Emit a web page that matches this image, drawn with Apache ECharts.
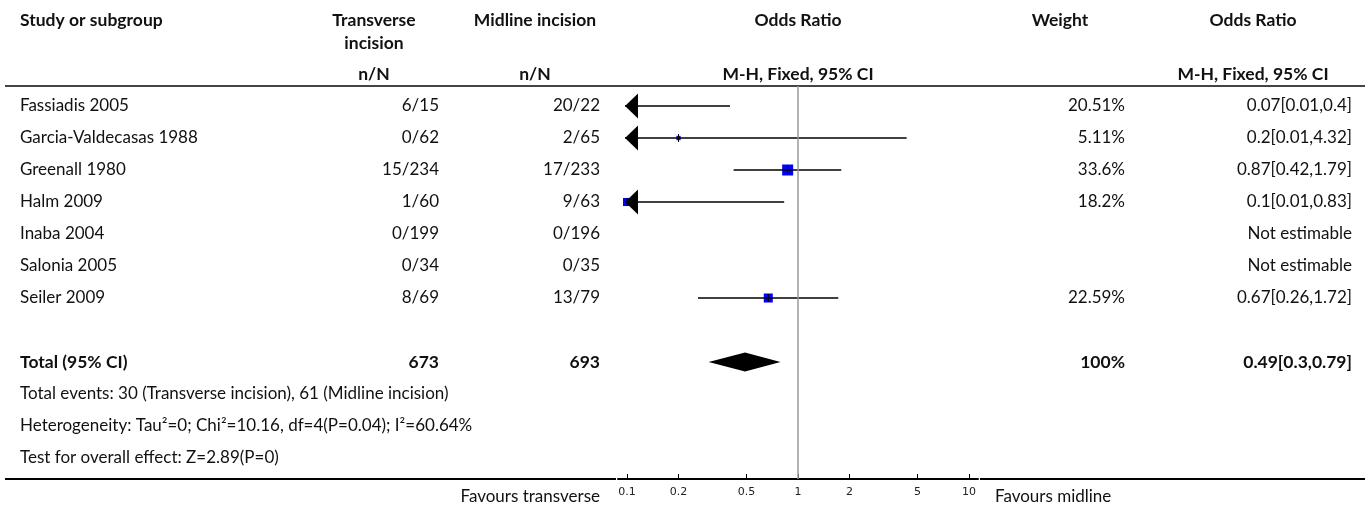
<!DOCTYPE html>
<html>
<head>
<meta charset="utf-8">
<title>Transverse vs midline incision</title>
<script src="https://cdn.jsdelivr.net/npm/echarts@6/dist/echarts.min.js"></script>
<style>
    html, body { margin: 0; padding: 0; background: #fff; }
    #forest { width: 1370px; height: 508px; }
</style>
</head>
<body>
<div id="forest"></div>
<script>
    // per-study rows
    var studies = ['Fassiadis 2005', 'Garcia-Valdecasas 1988', 'Greenall 1980', 'Halm 2009', 'Inaba 2004', 'Salonia 2005', 'Seiler 2009'];
    var transEvents = [6, 0, 15, 1, 0, 0, 8];
    var transTotal = [15, 62, 234, 60, 199, 34, 69];
    var midEvents = [20, 2, 17, 9, 0, 0, 13];
    var midTotal = [22, 65, 233, 63, 196, 35, 79];
    var weights = [20.51, 5.11, 33.6, 18.2, null, null, 22.59];
    var oddsRatio = [0.07, 0.2, 0.87, 0.1, null, null, 0.67];
    var ciLow = [0.01, 0.01, 0.42, 0.01, null, null, 0.26];
    var ciHigh = [0.4, 4.32, 1.79, 0.83, null, null, 1.72];

    // pooled result
    var totalTrans = 673;
    var totalMid = 693;
    var totalWeight = 100;
    var totalOR = 0.49, totalLow = 0.3, totalHigh = 0.79;
    var footNotes = [
        'Total events: 30 (Transverse incision), 61 (Midline incision)',
        'Heterogeneity: Tau\u00b2=0; Chi\u00b2=10.16, df=4(P=0.04); I\u00b2=60.64%',
        'Test for overall effect: Z=2.89(P=0)'
    ];

    var axisTicks = [0.1, 0.2, 0.5, 1, 2, 5, 10];

    var FONT = 'Lato, "Noto Sans", sans-serif';
    var TXT = '#111';
    var xExtent = 1.053;      // log10 half-width of the plot column
    var tipLog = -1.012;      // where clipped CIs end in an arrow
    var TOTAL_ROW = 8;

    var lg = function (v) { return Math.log(v) / Math.LN10; };

    // table rows (text only)
    var tableRows = [];
    studies.forEach(function (s, i) {
        tableRows.push({
            label: s,
            trans: transEvents[i] + '/' + transTotal[i],
            mid: midEvents[i] + '/' + midTotal[i],
            weight: weights[i] == null ? '' : weights[i] + '%',
            or: oddsRatio[i] == null ? 'Not estimable' : oddsRatio[i] + '[' + ciLow[i] + ',' + ciHigh[i] + ']',
            row: i
        });
    });
    tableRows.push({
        label: 'Total (95% CI)', trans: String(totalTrans), mid: String(totalMid),
        weight: totalWeight + '%', or: totalOR + '[' + totalLow + ',' + totalHigh + ']',
        row: TOTAL_ROW, bold: true
    });
    footNotes.forEach(function (t, k) {
        tableRows.push({ label: t, trans: '', mid: '', weight: '', or: '', row: TOTAL_ROW + 1 + k });
    });

    var studyMarks = [];
    studies.forEach(function (s, i) {
        if (oddsRatio[i] != null) {
            studyMarks.push([lg(oddsRatio[i]), lg(ciLow[i]), lg(ciHigh[i]), weights[i], i]);
        }
    });
    var maxWeight = Math.max.apply(null, weights.filter(function (w) { return w != null; }));

    function txt(x, y, s, align, bold, size, family) {
        return {
            type: 'text', x: x, y: y, silent: true,
            style: {
                text: s, fill: TXT, textAlign: align || 'left', textVerticalAlign: 'middle',
                font: (bold ? 'bold ' : '') + (size || (bold ? 17.5 : 17)) + 'px ' + (family || FONT)
            }
        };
    }

    function renderTable(params, api) {
        var r = tableRows[params.dataIndex];
        var y = api.coord([0, r.row])[1];
        return {
            type: 'group',
            children: [
                txt(20, y, r.label, 'left', r.bold),
                txt(439, y, r.trans, 'right', r.bold),
                txt(600, y, r.mid, 'right', r.bold),
                txt(1125, y, r.weight, 'right', r.bold),
                txt(1352, y, r.or, 'right', r.bold)
            ]
        };
    }

    function renderStudy(params, api) {
        var row = api.value(4);
        var est = api.value(0), lo = api.value(1), hi = api.value(2);
        var y = api.coord([0, row])[1];
        var xLo = api.coord([Math.max(lo, tipLog), row])[0];
        var xHi = api.coord([Math.min(hi, -tipLog), row])[0];
        var kids = [];
        if (est >= -xExtent && est <= xExtent) {
            var side = 11 * Math.sqrt(api.value(3) / maxWeight);
            var xe = api.coord([est, row])[0];
            kids.push({ type: 'rect', shape: { x: xe - side / 2, y: y - side / 2, width: side, height: side }, style: { fill: '#0000ff' } });
            kids.push({ type: 'line', shape: { x1: xe, y1: y - 4, x2: xe, y2: y + 4 }, style: { stroke: '#000', lineWidth: 1 } });
        }
        kids.push({ type: 'line', shape: { x1: xLo, y1: y, x2: xHi, y2: y }, style: { stroke: '#000', lineWidth: 1.5 } });
        if (lo < tipLog) {
            kids.push({ type: 'polygon', shape: { points: [[xLo, y], [xLo + 13, y - 12.5], [xLo + 13, y + 12.5]] }, style: { fill: '#000' } });
        }
        if (hi > -tipLog) {
            kids.push({ type: 'polygon', shape: { points: [[xHi, y], [xHi - 13, y - 12.5], [xHi - 13, y + 12.5]] }, style: { fill: '#000' } });
        }
        return { type: 'group', children: kids };
    }

    function renderDiamond(params, api) {
        var row = api.value(3);
        var pc = api.coord([api.value(0), row]);
        var pl = api.coord([api.value(1), row]);
        var ph = api.coord([api.value(2), row]);
        return {
            type: 'polygon',
            shape: { points: [[pl[0], pc[1]], [pc[0], pc[1] - 9.5], [ph[0], pc[1]], [pc[0], pc[1] + 9.5]] },
            style: { fill: '#000' }
        };
    }

    var chart = echarts.init(document.getElementById('forest'));
    var option = {
        animation: false,
        backgroundColor: '#fff',
        grid: { left: 618, right: 392, top: 86, bottom: 29, containLabel: false, outerBoundsMode: 'none' },
        xAxis: {
            type: 'value', min: -xExtent, max: xExtent,
            splitLine: { show: false },
            axisLine: { show: true, onZero: false, lineStyle: { color: '#000', width: 2 } },
            axisTick: { show: true, inside: true, length: 5, lineStyle: { color: '#000', width: 1 }, customValues: axisTicks.map(lg) },
            axisLabel: {
                customValues: axisTicks.map(lg), margin: 8, color: '#222',
                fontFamily: '"DejaVu Sans", sans-serif', fontSize: 11,
                formatter: function (v) { return String(Number(Math.pow(10, v).toPrecision(2))); }
            }
        },
        yAxis: { type: 'value', min: -0.625, max: 11.656, inverse: true, show: false },
        graphic: [
            txt(20, 20, 'Study or subgroup', 'left', true),
            txt(374, 20, 'Transverse', 'center', true),
            txt(374, 43, 'incision', 'center', true),
            txt(374, 74, 'n/N', 'center', true),
            txt(535, 20, 'Midline incision', 'center', true),
            txt(535, 74, 'n/N', 'center', true),
            txt(798, 20, 'Odds Ratio', 'center', true),
            txt(798, 74, 'M-H, Fixed, 95% CI', 'center', true),
            txt(1060, 20, 'Weight', 'center', true),
            txt(1253, 20, 'Odds Ratio', 'center', true),
            txt(1253, 74, 'M-H, Fixed, 95% CI', 'center', true),
            { type: 'line', silent: true, shape: { x1: 5, y1: 86, x2: 1365, y2: 86 }, style: { stroke: '#444', lineWidth: 2 } },
            { type: 'line', silent: true, shape: { x1: 5, y1: 479, x2: 616, y2: 479 }, style: { stroke: '#000', lineWidth: 2 } },
            { type: 'line', silent: true, shape: { x1: 980, y1: 479, x2: 1365, y2: 479 }, style: { stroke: '#000', lineWidth: 2 } },
            txt(600, 497, 'Favours transverse', 'right'),
            txt(995, 497, 'Favours midline', 'left')
        ],
        series: [
            {
                type: 'custom', name: 'table', coordinateSystem: 'cartesian2d', clip: false, silent: true,
                renderItem: renderTable,
                data: tableRows.map(function (r) { return [0, r.row]; })
            },
            {
                type: 'custom', name: 'studies', coordinateSystem: 'cartesian2d', clip: false, silent: true,
                renderItem: renderStudy,
                encode: { x: [0, 1, 2], y: 4 },
                data: studyMarks,
                z: 3
            },
            {
                type: 'custom', name: 'total', coordinateSystem: 'cartesian2d', silent: true,
                renderItem: renderDiamond,
                encode: { x: [0, 1, 2], y: 3 },
                data: [[lg(totalOR), lg(totalLow), lg(totalHigh), TOTAL_ROW]],
                markLine: {
                    silent: true, symbol: 'none', label: { show: false },
                    lineStyle: { color: '#9a9a9a', width: 1.5, type: 'solid' },
                    data: [{ xAxis: 0 }]
                },
                z: 2
            }
        ]
    };
    chart.setOption(option);
    window.addEventListener('resize', function () {
        chart.resize();
    });
</script>
</body>
</html>
